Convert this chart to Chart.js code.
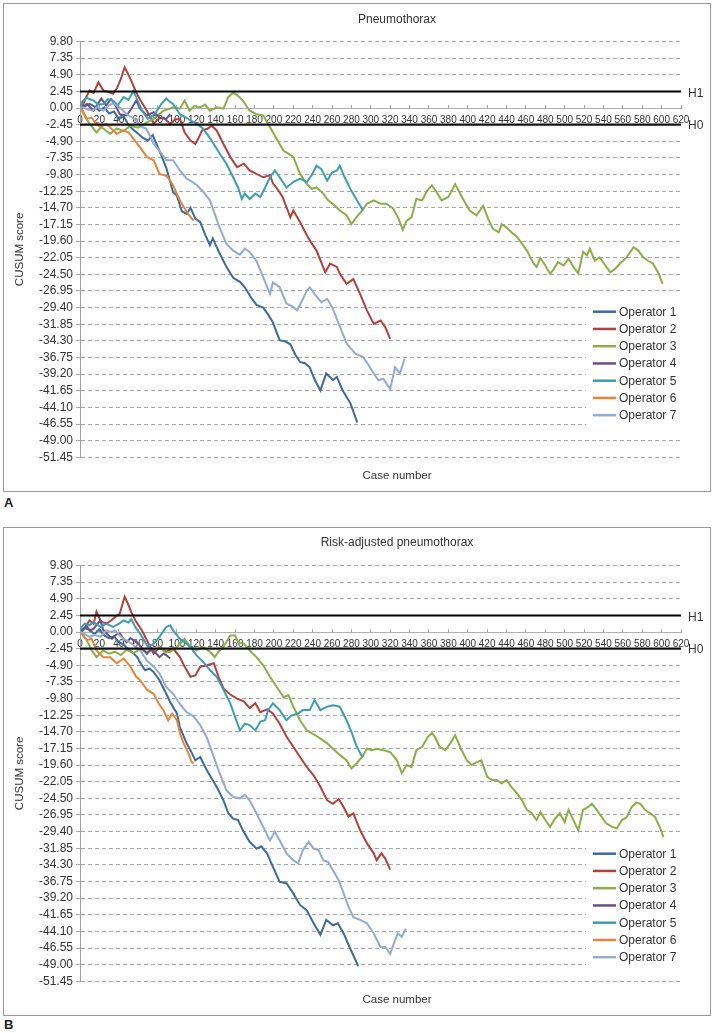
<!DOCTYPE html>
<html><head><meta charset="utf-8">
<script src="https://cdn.jsdelivr.net/npm/chart.js@4.4.1/dist/chart.umd.min.js"></script>
<style>
html,body{margin:0;padding:0;background:#fff;}
body{width:714px;height:1033px;position:relative;overflow:hidden;font-family:'Liberation Sans',Arial,sans-serif;}
.panel{position:absolute;left:3px;width:706px;height:487px;border:1px solid #9a9a9a;background:#fff;}
#pa{top:3px}
#pb{top:527px}
.panel canvas{display:block;width:706px;height:487px}
.letter{position:absolute;left:4px;font-weight:bold;font-size:13px;color:#222;font-family:'Liberation Sans',Arial,sans-serif;}
</style></head><body>
<div class="panel" id="pa"><canvas id="ca" width="706" height="487"></canvas></div>
<div class="letter" style="top:495px">A</div>
<div class="panel" id="pb"><canvas id="cb" width="706" height="487"></canvas></div>
<div class="letter" style="top:1017px">B</div>
<script>
// ---------- data (case number, CUSUM score) ----------
const OPERATORS = ['Operator 1','Operator 2','Operator 3','Operator 4','Operator 5','Operator 6','Operator 7'];
const COLORS = ['#3d6a9f','#b3413e','#8bae4b','#68508f','#3d9db4','#e3853b','#93aad1'];
const TITLE_A = 'Pneumothorax';
const TITLE_B = 'Risk-adjusted pneumothorax';
const X_TITLE = 'Case number';
const Y_TITLE = 'CUSUM score';
const X_MIN = 0, X_MAX = 620, X_STEP = 20;
const Y_MIN = -51.45, Y_MAX = 9.80, Y_STEP = 2.45;
const H1 = 2.45, H0 = -2.45;

const A_OP1 = [[0,0],[5,0.3],[10,0.6],[15,0.2],[20,-0.4],[25,0.1],[30,-0.8],[35,-0.5],[40,-1.6],[45,-1.2],[50,-2.5],[55,-3.2],[60,-3.8],[65,-4.4],[70,-4.8],[75,-4.0],[82,-6.3],[89,-8.8],[96,-12.4],[100,-12.9],[105,-15.2],[110,-15.6],[114,-14.7],[119,-16.3],[124,-16.8],[129,-18.6],[134,-20.2],[137,-19.2],[144,-21.4],[151,-23.4],[158,-25.0],[165,-25.6],[170,-26.4],[176,-27.8],[182,-29.0],[189,-29.4],[194,-30.4],[199,-31.6],[206,-34.2],[212,-34.4],[217,-34.8],[222,-36.3],[227,-37.4],[232,-37.6],[237,-38.2],[242,-40.0],[248,-41.6],[254,-39.1],[261,-40.1],[265,-39.6],[271,-41.6],[279,-43.5],[286,-46.3]];
const A_OP2 = [[0,0],[2,0.1],[6,1.5],[10,2.6],[14,2.2],[19,3.8],[24,2.6],[29,2.4],[34,2.1],[38,2.9],[42,4.2],[46,6.0],[50,4.9],[53,4.0],[58,2.3],[63,1.0],[69,-0.4],[76,-2.3],[81,-1.6],[86,-1.4],[93,-2.3],[98,-1.7],[103,-1.6],[108,-3.6],[114,-4.8],[119,-5.3],[122,-4.5],[126,-3.3],[131,-3.1],[136,-2.6],[141,-3.3],[148,-5.3],[155,-7.2],[162,-8.7],[169,-8.2],[175,-9.2],[182,-9.7],[189,-10.2],[196,-9.9],[199,-11.1],[204,-12.0],[209,-13.1],[217,-16.1],[220,-15.1],[227,-16.8],[232,-18.2],[237,-19.5],[244,-21.0],[253,-24.2],[258,-22.9],[265,-23.4],[268,-24.4],[275,-25.9],[282,-25.2],[289,-27.4],[296,-29.8],[303,-31.8],[310,-31.3],[315,-32.3],[320,-34.0]];
const A_OP3 = [[0,0],[2,-0.4],[6,-1.5],[10,-2.3],[17,-3.6],[22,-2.8],[31,-3.8],[38,-3.0],[45,-3.4],[52,-2.6],[60,-2.9],[68,-2.2],[76,-1.6],[81,-1.0],[86,-0.4],[91,-0.2],[96,0.1],[103,-0.1],[108,1.1],[113,-0.4],[118,0.3],[124,0.1],[129,0.5],[134,-0.4],[141,0.1],[148,-0.1],[153,1.6],[158,2.3],[163,1.8],[168,1.1],[175,-0.4],[182,-0.9],[189,-1.1],[196,-2.8],[203,-4.6],[210,-6.3],[215,-6.7],[220,-7.2],[227,-9.7],[234,-11.2],[239,-11.9],[244,-11.7],[251,-12.6],[256,-13.6],[263,-14.4],[268,-15.1],[275,-15.8],[280,-17.1],[285,-16.1],[291,-15.1],[296,-14.1],[303,-13.6],[310,-14.1],[316,-14.1],[323,-14.8],[328,-16.1],[333,-17.9],[337,-16.6],[342,-16.1],[347,-13.4],[353,-13.6],[358,-12.2],[363,-11.4],[368,-12.4],[373,-13.6],[380,-13.1],[387,-11.2],[394,-13.1],[402,-15.1],[409,-15.8],[416,-14.4],[421,-16.3],[426,-17.8],[432,-18.3],[435,-17.1],[440,-17.6],[445,-18.3],[451,-19.0],[456,-20.0],[461,-21.0],[468,-22.9],[471,-23.4],[475,-22.1],[480,-23.2],[485,-24.4],[488,-23.9],[493,-22.7],[499,-23.2],[504,-22.2],[509,-23.4],[514,-24.4],[519,-21.2],[523,-21.7],[526,-20.7],[531,-22.5],[536,-22.0],[542,-23.2],[547,-24.2],[552,-23.7],[557,-22.9],[564,-22.0],[571,-20.5],[576,-21.0],[581,-22.0],[586,-22.5],[591,-22.9],[597,-24.4],[601,-25.9]];
const A_OP4 = [[0,0],[3,0.1],[7,0.6],[14,-0.4],[18,0.5],[22,1.4],[27,0.4],[32,1.3],[36,0.6],[41,-0.9],[48,-1.1],[53,-0.1],[58,1.1],[62,-0.1],[69,-1.1],[76,-0.6],[82,-1.4],[89,-1.6],[93,-0.9]];
const A_OP5 = [[0,0],[2,0.9],[7,1.5],[14,1.1],[19,0.5],[24,0.6],[29,1.3],[34,1.1],[39,0.4],[45,1.6],[50,1.2],[55,2.5],[58,1.6],[61,0.6],[64,-0.4],[70,-1.6],[77,-0.9],[84,0.6],[89,1.4],[92,1.0],[96,0.6],[103,-0.9],[108,-1.3],[114,-1.8],[120,-2.3],[126,-2.9],[131,-3.8],[138,-5.3],[144,-6.7],[151,-8.2],[158,-10.2],[163,-11.7],[167,-13.4],[170,-12.6],[175,-13.4],[181,-12.6],[186,-13.1],[191,-11.7],[196,-10.2],[201,-9.2],[206,-10.2],[213,-11.7],[220,-10.9],[227,-10.4],[234,-10.9],[239,-9.9],[244,-8.5],[249,-9.0],[255,-10.7],[260,-9.5],[265,-9.2],[268,-8.5],[273,-10.2],[280,-12.2],[287,-13.9],[292,-15.1]];
const A_OP6 = [[0,0],[3,-0.4],[7,-1.6],[12,-1.4],[16,-2.2],[21,-2.8],[27,-2.3],[32,-3.0],[38,-3.8],[45,-3.3],[50,-3.6],[55,-4.5],[62,-5.8],[69,-7.2],[76,-7.7],[82,-9.7],[89,-10.0],[93,-10.7],[96,-11.4],[103,-13.6],[110,-15.3],[117,-16.6]];
const A_OP7 = [[0,0],[3,0.1],[8,-0.2],[13,-0.4],[18,0.2],[24,-0.4],[29,0.3],[34,0.7],[41,0.1],[48,-0.9],[55,-1.5],[60,-2.2],[64,-2.8],[68,-3.0],[72,-4.0],[76,-5.3],[82,-6.3],[89,-7.7],[96,-7.7],[103,-9.2],[110,-10.4],[115,-10.8],[120,-11.3],[127,-12.3],[134,-13.6],[139,-15.6],[144,-17.6],[151,-20.0],[158,-21.0],[165,-21.6],[170,-20.7],[175,-21.2],[182,-22.5],[189,-24.9],[196,-27.4],[199,-25.7],[206,-26.4],[213,-28.8],[220,-29.3],[224,-29.8],[229,-28.4],[234,-26.9],[237,-26.4],[242,-27.4],[249,-28.6],[255,-28.1],[260,-29.3],[267,-31.8],[275,-34.7],[284,-36.2],[292,-36.7],[297,-37.7],[303,-39.1],[308,-40.1],[313,-39.9],[320,-41.4],[325,-38.2],[330,-39.1],[335,-36.9]];

const B_OP1 = [[0,0],[5,0.6],[10,0.3],[15,-0.3],[20,0.4],[25,-0.5],[30,-0.9],[35,-0.6],[40,-1.5],[45,-1.8],[50,-2.6],[55,-3.1],[59,-3.7],[63,-4.7],[67,-5.6],[72,-5.4],[76,-5.9],[82,-7.1],[89,-9.1],[93,-10.3],[100,-12.0],[103,-14.0],[110,-16.4],[114,-17.4],[119,-18.9],[124,-18.4],[131,-20.4],[136,-21.6],[141,-22.8],[148,-24.8],[153,-26.7],[158,-27.5],[163,-27.7],[168,-29.2],[175,-30.9],[182,-31.9],[187,-31.6],[193,-32.6],[199,-34.6],[206,-36.8],[213,-37.0],[220,-38.5],[227,-40.2],[234,-41.0],[241,-42.9],[248,-44.6],[254,-42.4],[261,-43.2],[266,-42.9],[272,-44.4],[278,-46.4],[287,-49.2]];
const B_OP2 = [[0,0],[2,0.0],[6,0.9],[10,1.7],[14,1.2],[17,3.0],[21,1.7],[24,1.4],[28,1.3],[32,1.7],[36,2.2],[41,2.7],[46,5.2],[50,4.0],[53,2.9],[58,1.5],[64,0.2],[69,-1.2],[76,-3.2],[82,-2.2],[89,-2.9],[96,-2.4],[103,-3.7],[108,-5.1],[114,-6.6],[119,-6.4],[124,-5.1],[131,-4.9],[138,-4.6],[143,-6.6],[148,-8.3],[155,-9.2],[162,-9.8],[169,-10.2],[175,-11.2],[181,-10.5],[186,-11.8],[193,-11.4],[199,-12.0],[206,-13.5],[213,-15.4],[220,-16.9],[227,-18.4],[234,-19.9],[241,-21.1],[248,-22.8],[255,-24.8],[261,-25.3],[267,-24.6],[272,-25.8],[277,-27.2],[282,-26.7],[289,-29.2],[296,-31.1],[303,-32.6],[306,-33.6],[311,-32.6],[315,-33.4],[320,-35.0]];
const B_OP3 = [[0,0],[3,-0.4],[7,-1.2],[12,-2.7],[17,-3.7],[24,-2.7],[30,-3.2],[36,-2.9],[42,-3.4],[48,-2.6],[55,-3.1],[62,-2.5],[69,-2.9],[76,-2.7],[82,-2.2],[88,-3.0],[93,-2.9],[100,-2.2],[108,-1.0],[114,-2.2],[120,-2.7],[127,-2.2],[134,-2.9],[139,-3.7],[143,-2.9],[148,-2.2],[155,-0.5],[160,-0.5],[163,-1.5],[169,-1.7],[175,-2.7],[182,-3.7],[189,-4.9],[196,-6.6],[203,-8.1],[210,-9.6],[215,-9.3],[220,-11.0],[227,-13.0],[234,-14.5],[239,-14.9],[246,-15.5],[255,-16.4],[261,-17.2],[268,-18.1],[275,-18.9],[280,-20.1],[285,-19.4],[291,-18.4],[296,-17.2],[301,-17.4],[306,-17.2],[313,-17.4],[320,-17.7],[327,-18.9],[332,-20.8],[337,-19.6],[342,-19.9],[347,-17.4],[353,-16.9],[359,-15.4],[363,-14.9],[366,-15.4],[371,-16.9],[377,-17.4],[382,-16.4],[387,-15.2],[392,-16.9],[399,-18.9],[404,-19.6],[409,-19.2],[414,-18.9],[420,-21.3],[425,-21.8],[430,-21.8],[435,-22.3],[440,-21.8],[445,-22.8],[451,-23.8],[456,-24.8],[461,-26.2],[466,-26.7],[471,-27.7],[475,-26.5],[480,-27.7],[485,-28.7],[490,-27.5],[495,-26.7],[500,-28.0],[504,-26.2],[509,-27.7],[514,-29.2],[519,-26.2],[524,-25.8],[528,-25.3],[533,-26.2],[538,-27.2],[543,-28.2],[549,-28.7],[554,-28.9],[559,-27.7],[564,-27.3],[569,-25.8],[574,-25.1],[578,-25.3],[583,-26.2],[588,-26.7],[593,-27.2],[598,-28.7],[602,-30.2]];
const B_OP4 = [[0,0],[3,0.4],[7,0.9],[10,0.2],[14,0.5],[18,1.2],[21,1.7],[24,0.3],[29,-0.4],[33,-1.0],[37,-0.4],[41,-0.2],[45,-1.0],[48,-1.5],[52,-0.9],[55,-1.2],[59,-1.5],[64,-2.4],[69,-3.2],[73,-2.6],[77,-2.9],[82,-3.7],[86,-3.2],[89,-3.4],[93,-3.9]];
const B_OP5 = [[0,0],[2,0.8],[5,1.25],[10,1.0],[14,1.5],[21,0.75],[27,1.25],[34,0.75],[40,1.2],[45,1.7],[50,1.4],[53,1.9],[57,0.75],[64,-0.7],[70,-2.2],[76,-1.7],[82,-0.7],[89,0.75],[93,1.0],[96,0.25],[103,-1.0],[108,-1.5],[114,-2.2],[120,-3.4],[127,-4.4],[134,-5.6],[141,-6.6],[148,-8.5],[155,-10.5],[160,-12.5],[165,-14.5],[170,-13.5],[175,-13.7],[181,-14.5],[186,-13.2],[191,-13.0],[194,-11.5],[199,-10.5],[206,-11.5],[213,-13.0],[218,-12.3],[225,-12.0],[230,-11.5],[237,-11.5],[242,-10.0],[248,-11.5],[255,-11.0],[261,-10.8],[268,-11.0],[275,-13.0],[280,-14.7],[285,-16.7],[290,-18.1],[292,-18.4]];
const B_OP6 = [[0,0],[3,-0.5],[7,-1.2],[12,-1.0],[17,-2.7],[24,-3.7],[31,-3.7],[38,-4.6],[45,-3.9],[52,-5.1],[58,-6.6],[62,-7.1],[69,-8.5],[76,-9.1],[81,-10.5],[86,-11.5],[91,-13.0],[95,-12.0],[100,-13.0],[103,-14.9],[107,-16.4],[112,-17.9],[115,-19.1],[117,-19.4]];
const B_OP7 = [[0,0],[5,-0.3],[10,-0.7],[15,-0.4],[21,-0.7],[27,0.25],[32,0.0],[36,0.25],[41,-0.5],[45,-1.0],[50,-1.4],[55,-1.9],[62,-2.7],[69,-4.2],[76,-5.1],[82,-6.1],[89,-8.1],[96,-9.1],[103,-10.6],[110,-11.8],[117,-12.4],[124,-13.7],[131,-15.6],[138,-18.4],[144,-20.8],[151,-23.3],[158,-24.3],[165,-24.5],[170,-24.0],[175,-24.8],[182,-26.7],[189,-28.7],[196,-30.7],[201,-29.4],[206,-30.7],[213,-32.6],[220,-33.6],[225,-34.1],[230,-32.1],[236,-30.9],[241,-31.9],[246,-32.1],[251,-33.6],[256,-33.9],[261,-35.1],[267,-36.6],[272,-38.5],[277,-40.5],[282,-42.0],[289,-42.4],[296,-42.9],[303,-44.4],[310,-46.4],[315,-46.4],[320,-47.4],[325,-45.4],[328,-44.4],[332,-44.9],[336,-43.7]];

const SERIES_A = [A_OP1, A_OP2, A_OP3, A_OP4, A_OP5, A_OP6, A_OP7];
const SERIES_B = [B_OP1, B_OP2, B_OP3, B_OP4, B_OP5, B_OP6, B_OP7];

// ---------- rendering ----------
const FONT = "'Liberation Sans', Arial, sans-serif";
Chart.defaults.font.family = FONT;
Chart.defaults.color = '#333';

const decorPlugin = {
  id: 'decor',
  beforeDatasetsDraw(chart, args, o) {
    const ctx = chart.ctx;
    const lg = o.legend;
    ctx.save();
    ctx.fillStyle = '#fff';
    ctx.fillRect(lg.x, lg.top, lg.w, lg.h);
    ctx.font = '12px ' + FONT;
    ctx.textBaseline = 'middle';
    ctx.textAlign = 'left';
    chart.data.datasets.filter(d => !d.isLimit).forEach((d, i) => {
      const y = lg.firstY + i * lg.step;
      ctx.strokeStyle = d.borderColor;
      ctx.lineWidth = 2.5;
      ctx.beginPath(); ctx.moveTo(lg.lineX0, y); ctx.lineTo(lg.lineX1, y); ctx.stroke();
      ctx.fillStyle = '#333';
      ctx.fillText(d.label, lg.textX, y + 0.5);
    });
    ctx.restore();
  },
  afterDraw(chart, args, o) {
    const ctx = chart.ctx;
    const ys = chart.scales.y;
    const ca = chart.chartArea;
    ctx.save();
    ctx.fillStyle = '#333';
    ctx.textBaseline = 'middle';
    ctx.textAlign = 'center';
    ctx.font = '12px ' + FONT;
    ctx.fillText(o.title, o.cx, o.titleY);
    ctx.font = '11.5px ' + FONT;
    ctx.fillText(X_TITLE, o.cx, o.xTitleY);
    ctx.textAlign = 'left';
    ctx.font = '12px ' + FONT;
    ctx.fillText('H1', ca.right + 7, ys.getPixelForValue(H1) + 2);
    ctx.fillText('H0', ca.right + 7, ys.getPixelForValue(H0) + 1);
    ctx.restore();
  }
};

function makeChart(id, title, series, legendTop, titleY) {
  const datasets = OPERATORS.map((name, i) => ({
    label: name,
    data: series[i].map(p => ({x: p[0], y: p[1]})),
    borderColor: COLORS[i],
    backgroundColor: COLORS[i],
    borderWidth: 2,
    pointRadius: 0,
    tension: 0,
    fill: false,
    order: 10 - i
  }));
  datasets.push({label: 'H1', isLimit: true, data: [{x: X_MIN, y: H1}, {x: X_MAX, y: H1}], borderColor: '#000', borderWidth: 2, pointRadius: 0, order: 0});
  datasets.push({label: 'H0', isLimit: true, data: [{x: X_MIN, y: H0}, {x: X_MAX, y: H0}], borderColor: '#111', borderWidth: 2.2, pointRadius: 0, order: 0});

  return new Chart(document.getElementById(id), {
    type: 'line',
    data: {datasets},
    options: {
      responsive: false,
      animation: false,
      devicePixelRatio: 1,
      events: [],
      layout: {padding: {left: 0, right: 29, top: 37.5, bottom: 33.7}},
      plugins: {
        legend: {display: false},
        tooltip: {enabled: false},
        decor: {
          title: title, cx: 393, titleY: titleY, xTitleY: 472,
          legend: {x: 582, top: legendTop, w: 95, h: 136, firstY: legendTop + 14.7, step: 17.25, lineX0: 589, lineX1: 612, textX: 615}
        }
      },
      scales: {
        x: {
          type: 'linear',
          position: {y: 0},
          min: X_MIN, max: X_MAX,
          ticks: {stepSize: X_STEP, autoSkip: false, maxRotation: 0, minRotation: 0, font: {size: 10}, color: '#333', padding: 10},
          grid: {drawOnChartArea: false, drawTicks: true, tickLength: -4, color: '#a8a8a8'},
          border: {display: true, color: '#b0b0b0', width: 1}
        },
        y: {
          type: 'linear',
          min: Y_MIN, max: Y_MAX,
          ticks: {stepSize: Y_STEP, autoSkip: false, font: {size: 12}, color: '#333', padding: 3,
                  callback: v => Number(v).toFixed(2)},
          grid: {color: '#a8a8a8', lineWidth: 1, tickLength: 4, drawTicks: true},
          border: {display: true, color: '#a0a0a0', width: 1, dash: [4, 3]},
          title: {display: true, text: Y_TITLE, font: {size: 11.5}, color: '#333', padding: {top: 9, bottom: 0}},
          afterFit(s) { s.width = 76; }
        }
      }
    },
    plugins: [decorPlugin]
  });
}

makeChart('ca', TITLE_A, SERIES_A, 293, 16);
makeChart('cb', TITLE_B, SERIES_B, 311, 15);
</script>
</body></html>
